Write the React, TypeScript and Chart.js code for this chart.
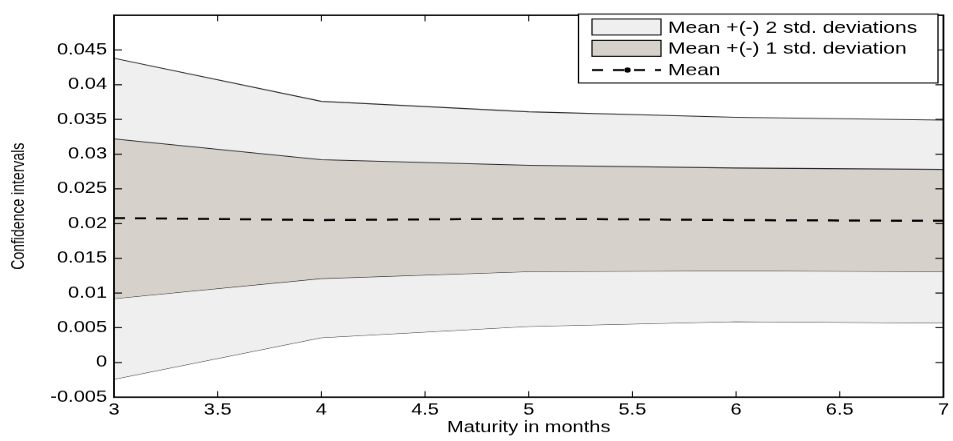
import React, { useEffect, useRef } from 'react';
import { Chart, registerables } from 'chart.js';

Chart.register(...registerables);

// ---- data ----
const maturities = [3, 4, 5, 6, 7];
const upper2 = [0.0438, 0.0376, 0.0361, 0.0353, 0.0349];
const upper1 = [0.0322, 0.0292, 0.0284, 0.028, 0.0278];
const meanVals = [0.0208, 0.0205, 0.0207, 0.0205, 0.0204];
const lower1 = [0.0092, 0.0121, 0.0131, 0.0132, 0.0131];
const lower2 = [-0.0024, 0.0036, 0.0052, 0.0059, 0.0057];
const legendLabels = ['Mean +(-) 2 std. deviations', 'Mean +(-) 1 std. deviation', 'Mean'];
const xTitle = 'Maturity in months';
const yTitle = 'Confidence intervals';
const yMin = -0.005;
const yMax = 0.05;
const yStep = 0.005;
const xMin = 3;
const xMax = 7;
const xStep = 0.5;

// ---- style ----
const FAMILY = '"Liberation Sans", Arial, Helvetica, sans-serif';
const LIGHT = '#efefef';
const DARK = '#d6d1ca';
const EDGE = '#262626';
const W = 953;
const H = 551; // internal height, displayed at 441 px
const DISPLAY_H = 441;
const SY = DISPLAY_H / H;

const fmt = (v: number) => String(parseFloat(Number(v).toFixed(4)));
const pts = (arr: number[]) => maturities.map((m, i) => ({ x: m, y: arr[i] }));

const matlabPlugin = {
  id: 'matlabBox',
  afterDraw(chart: any) {
    const { ctx, chartArea: a, scales } = chart;
    const xs = scales.x;
    const ys = scales.y;
    const Y = (d: number) => d / SY;
    ctx.save();
    ctx.strokeStyle = '#000';
    // inward ticks, vertical (x)
    ctx.lineWidth = 1;
    ctx.beginPath();
    xs.ticks.forEach((t: any) => {
      const p = xs.getPixelForValue(t.value);
      if (p <= a.left + 1 || p >= a.right - 1) return;
      ctx.moveTo(p, a.bottom);
      ctx.lineTo(p, a.bottom - 7.5);
      ctx.moveTo(p, a.top);
      ctx.lineTo(p, a.top + 7.5);
    });
    ctx.stroke();
    // inward ticks, horizontal (y)
    ctx.lineWidth = 1.25;
    ctx.beginPath();
    ys.ticks.forEach((t: any) => {
      const p = ys.getPixelForValue(t.value);
      if (p <= a.top + 1 || p >= a.bottom - 1) return;
      ctx.moveTo(a.left, p);
      ctx.lineTo(a.left + 8, p);
      ctx.moveTo(a.right, p);
      ctx.lineTo(a.right - 8, p);
    });
    ctx.stroke();
    // box
    ctx.lineWidth = 1.8;
    ctx.strokeRect(a.left, a.top, a.right - a.left, a.bottom - a.top);

    // legend
    const L = { left: 578.5, right: 938, top: 14, bottom: 83 };
    ctx.fillStyle = '#fff';
    ctx.fillRect(L.left, Y(L.top), L.right - L.left, Y(L.bottom) - Y(L.top));
    ctx.lineWidth = 1.3;
    ctx.strokeStyle = '#000';
    ctx.strokeRect(L.left, Y(L.top), L.right - L.left, Y(L.bottom) - Y(L.top));
    const rows = [27, 48.3, 70];
    const sw = { left: 592, right: 661 };
    const fills = [LIGHT, DARK];
    for (let i = 0; i < 2; i++) {
      const top = Y(rows[i] - 8);
      const h = Y(16);
      ctx.fillStyle = fills[i];
      ctx.fillRect(sw.left, top, sw.right - sw.left, h);
      ctx.lineWidth = 1.2;
      ctx.strokeStyle = '#000';
      ctx.strokeRect(sw.left, top, sw.right - sw.left, h);
    }
    // mean sample
    ctx.save();
    ctx.strokeStyle = '#000';
    ctx.lineWidth = 2.5;
    ctx.setLineDash([11, 10]);
    ctx.beginPath();
    ctx.moveTo(sw.left, Y(rows[2]));
    ctx.lineTo(sw.right, Y(rows[2]));
    ctx.stroke();
    ctx.restore();
    ctx.fillStyle = '#000';
    ctx.beginPath();
    ctx.arc((sw.left + sw.right) / 2 + 1, Y(rows[2]), 3.2, 0, Math.PI * 2);
    ctx.fill();
    // texts
    ctx.fillStyle = '#000';
    ctx.font = `21px ${FAMILY}`;
    ctx.textAlign = 'left';
    ctx.textBaseline = 'middle';
    legendLabels.forEach((txt, i) => {
      ctx.fillText(txt, 668, Y(rows[i]) + 1);
    });
    ctx.restore();
  },
};

export default function App() {
  const ref = useRef<HTMLCanvasElement | null>(null);

  useEffect(() => {
    const canvas = ref.current;
    if (!canvas) return;
    const chart = new Chart(canvas, {
      type: 'line',
      data: {
        datasets: [
          {
            label: 'upper2',
            data: pts(upper2),
            fill: '+1',
            backgroundColor: LIGHT,
            borderColor: EDGE,
            borderWidth: 1.1,
            pointRadius: 0,
            tension: 0,
            order: 3,
          },
          {
            label: 'lower2',
            data: pts(lower2),
            fill: false,
            borderColor: EDGE,
            borderWidth: 1.1,
            pointRadius: 0,
            tension: 0,
            order: 3,
          },
          {
            label: 'upper1',
            data: pts(upper1),
            fill: '+1',
            backgroundColor: DARK,
            borderColor: EDGE,
            borderWidth: 1.1,
            pointRadius: 0,
            tension: 0,
            order: 2,
          },
          {
            label: 'lower1',
            data: pts(lower1),
            fill: false,
            borderColor: EDGE,
            borderWidth: 1.1,
            pointRadius: 0,
            tension: 0,
            order: 2,
          },
          {
            label: 'Mean',
            data: pts(meanVals),
            fill: false,
            borderColor: '#000',
            borderWidth: 2.5,
            borderDash: [11, 10],
            pointRadius: 0,
            tension: 0,
            order: 1,
          },
        ],
      },
      options: {
        responsive: false,
        maintainAspectRatio: false,
        devicePixelRatio: 1,
        animation: false,
        events: [],
        layout: { padding: { left: 9, top: 6.25, right: 5, bottom: 5 } },
        plugins: {
          legend: { display: false },
          tooltip: { enabled: false },
        },
        scales: {
          x: {
            type: 'linear',
            min: xMin,
            max: xMax,
            grid: { display: false, drawTicks: false },
            border: { display: false },
            ticks: {
              stepSize: xStep,
              autoSkip: false,
              maxRotation: 0,
              padding: 4,
              color: '#000',
              font: { size: 20, family: FAMILY },
              callback: (v: any) => fmt(v),
            },
            title: {
              display: true,
              text: xTitle,
              color: '#000',
              font: { size: 20, family: FAMILY },
              padding: 0,
            },
            afterFit: (s: any) => {
              s.height = 49.75;
            },
          },
          y: {
            type: 'linear',
            min: yMin,
            max: yMax,
            grid: { display: false, drawTicks: false },
            border: { display: false },
            ticks: {
              stepSize: yStep,
              autoSkip: false,
              maxTicksLimit: 30,
              padding: 7,
              color: '#000',
              font: { size: 20, family: FAMILY },
              callback: (v: any) => (v > yMax - yStep / 2 ? '' : fmt(v)),
            },
            title: {
              display: true,
              text: yTitle,
              color: '#000',
              font: { size: 17.5, family: FAMILY },
              padding: 0,
            },
            afterFit: (s: any) => {
              s.width = 105;
            },
          },
        },
      },
      plugins: [matlabPlugin],
    } as any);
    return () => chart.destroy();
  }, []);

  return (
    <div style={{ position: 'fixed', left: 0, top: 0, width: W, height: DISPLAY_H, background: '#fff' }}>
      <canvas
        ref={ref}
        width={W}
        height={H}
        style={{ display: 'block', width: `${W}px`, height: `${DISPLAY_H}px` }}
      />
    </div>
  );
}
